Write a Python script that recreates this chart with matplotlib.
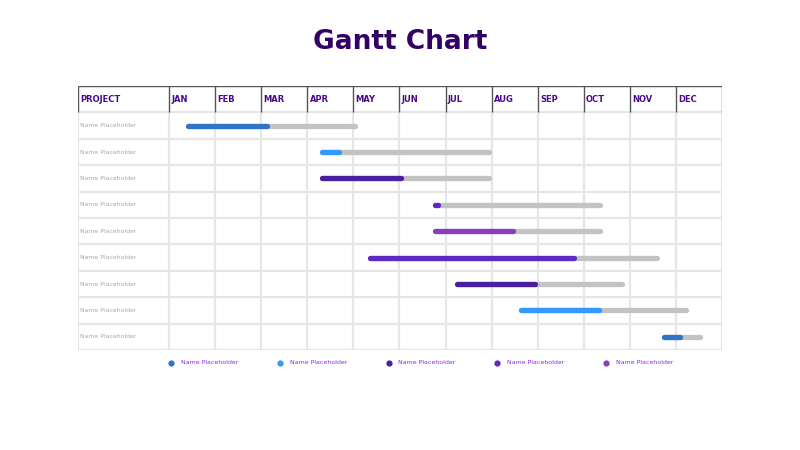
import matplotlib.pyplot as plt

# months and tasks
months = ["JAN", "FEB", "MAR", "APR", "MAY", "JUN",
          "JUL", "AUG", "SEP", "OCT", "NOV", "DEC"]
tasks = ["Name Placeholder"] * 9
# values in month units (0 = start of JAN)
task_start = [0.41, 3.32, 3.32, 5.76, 5.76, 4.37, 6.24, 7.63, 10.74]
task_done = [2.13, 3.68, 5.03, 5.83, 7.46, 8.79, 7.94, 9.33, 11.09]
task_end = [4.03, 6.94, 6.94, 9.35, 9.35, 10.59, 9.83, 11.22, 11.53]
task_color = [0, 1, 2, 3, 4, 3, 2, 1, 0]
legend_labels = ["Name Placeholder"] * 5

palette = ["#2F75C5", "#3399FF", "#4A1FA0", "#5F27C3", "#8B3DC0"]
grid_c = "#E6E6E6"
dark_c = "#555555"
track_c = "#C3C3C3"

W, H = 800, 450
fig = plt.figure(figsize=(8, 4.5), dpi=100)

proj_w = 91 / 46.0  # project column width in months
x0, x1 = 78, 722
y_top, y_bot = 86, 350
ax = fig.add_axes([x0 / W, 1 - y_bot / H, (x1 - x0) / W, (y_bot - y_top) / H])
ax.set_xlim(-proj_w, 12)
ax.set_ylim(len(tasks), -1)
ax.axis("off")

n = len(tasks)
# row grid
for r in range(n + 1):
    ax.plot([-proj_w, 12], [r, r], color=grid_c, lw=1.6, zorder=1,
            solid_capstyle="butt")
vlines = [-proj_w] + list(range(13))
for v in vlines:
    ax.plot([v, v], [0, n], color=grid_c, lw=1.6, zorder=1,
            solid_capstyle="butt")
# header
ax.plot([-proj_w, 12], [-1, -1], color=dark_c, lw=1.0, zorder=2,
        solid_capstyle="butt")
for v in vlines:
    ax.plot([v, v], [-1, 0], color=dark_c, lw=1.0, zorder=2,
            solid_capstyle="butt")

hdr_c = "#4B0A8A"
ax.text(-proj_w + 0.04, -0.5, "PROJECT", color=hdr_c, fontsize=6,
        fontweight="bold", va="center", ha="left")
for i, m in enumerate(months):
    ax.text(i + 0.05, -0.5, m, color=hdr_c, fontsize=6,
            fontweight="bold", va="center", ha="left")

# rows
for r in range(n):
    ax.text(-proj_w + 0.04, r + 0.5, tasks[r], color="#A8A8A8",
            fontsize=4.4, va="center", ha="left")
    ax.plot([task_start[r], task_end[r]], [r + 0.5, r + 0.5], color=track_c,
            lw=3.8, solid_capstyle="round", zorder=3)
    ax.plot([task_start[r], task_done[r]], [r + 0.5, r + 0.5],
            color=palette[task_color[r]], lw=3.8, solid_capstyle="round",
            zorder=4)

# title
fig.text(0.5, 1 - 42 / H, "Gantt Chart", ha="center", va="center",
         fontsize=19, fontweight="bold", color="#330066")

# legend
lx0, step = 171, 108.75
lax = fig.add_axes([lx0 / W, 1 - 370 / H, 5 * step / W, 14 / H])
lax.set_xlim(0, 5)
lax.set_ylim(0, 1)
lax.axis("off")
for i, lab in enumerate(legend_labels):
    lax.scatter([i], [0.5], s=12, color=palette[i], zorder=3, clip_on=False)
    lax.text(i + 10 / step, 0.5, lab, color="#8A2BE2", fontsize=4.5,
             va="center", ha="left")

fig.savefig("out.png", dpi=100)
